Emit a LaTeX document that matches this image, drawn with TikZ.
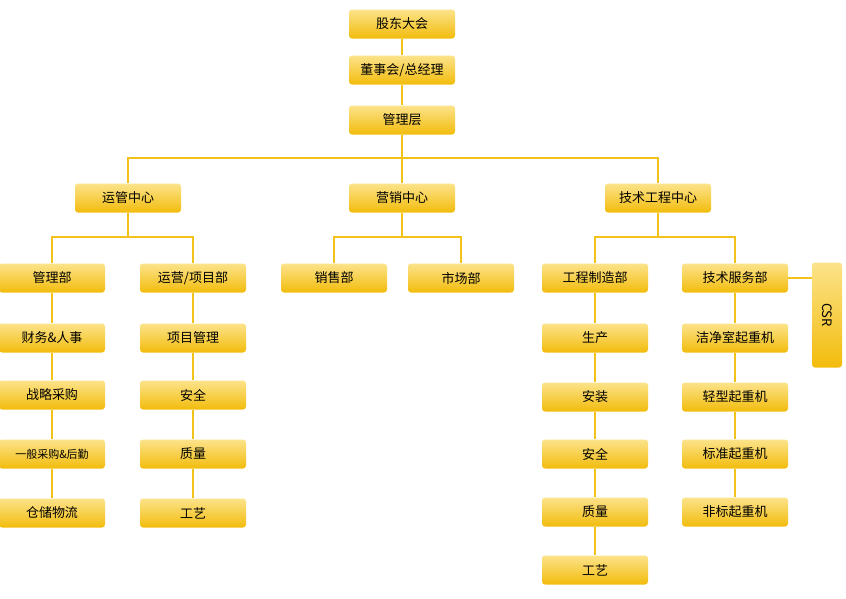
\documentclass[tikz,border=0pt]{standalone}
\usepackage{fontspec}
\setmainfont{Noto Sans CJK SC}
\definecolor{ytop}{HTML}{FCE38A}
\definecolor{ybot}{HTML}{F2BC0C}
\definecolor{lnc}{HTML}{F2C21A}
\begin{document}
\begin{tikzpicture}[x=1pt,y=-1pt,
  bx/.style={rounded corners=3pt,top color=ytop,bottom color=ybot,draw=none,minimum width=106pt,minimum height=29pt,inner sep=0pt,font=\fontsize{13}{15}\selectfont,text=black},
  ln/.style={draw=lnc,line width=1.5pt}]
\useasboundingbox (0,0) rectangle (846,598);
\node[bx] (a) at (402,24) {股东大会};
\node[bx] (b) at (402,70) {董事会/总经理};
\node[bx] (c) at (402,120) {管理层};
\node[bx] (m1) at (128,198) {运管中心};
\node[bx] (m2) at (402,198) {营销中心};
\node[bx] (m3) at (658,198) {技术工程中心};
\node[bx] (d1) at (52,278) {管理部};
\node[bx] (d2) at (193,278) {运营/项目部};
\node[bx] (d3) at (334,278) {销售部};
\node[bx] (d4) at (461,278) {市场部};
\node[bx] (d5) at (595,278) {工程制造部};
\node[bx] (d6) at (735,278) {技术服务部};
\node[bx,minimum width=30pt,minimum height=105pt] (csr) at (827,315) {\rotatebox{-90}{CSR}};
\foreach \t [count=\i] in {财务\&人事,战略采购,{\fontsize{11}{13}\selectfont 一般采购\&后勤},仓储物流}{
  \pgfmathsetmacro\yy{{338,395,454,513}[\i-1]}
  \node[bx] (p\i) at (52,\yy) {\t};}
\foreach \t [count=\i] in {项目管理,安全,质量,工艺}{
  \pgfmathsetmacro\yy{{338,395,454,513}[\i-1]}
  \node[bx] (q\i) at (193,\yy) {\t};}
\foreach \t [count=\i] in {生产,安装,安全,质量,工艺}{
  \pgfmathsetmacro\yy{{338,397,454,512,570}[\i-1]}
  \node[bx] (r\i) at (595,\yy) {\t};}
\foreach \t [count=\i] in {洁净室起重机,轻型起重机,标准起重机,非标起重机}{
  \pgfmathsetmacro\yy{{338,397,454,512}[\i-1]}
  \node[bx] (s\i) at (735,\yy) {\t};}
\coordinate (h) at (402,158);
\draw[ln] (a) -- (b);
\draw[ln] (b) -- (c);
\draw[ln] (c.south) -- (h);
\draw[ln] (m1.north) |- (h) -| (m3.north);
\draw[ln] (h) -- (m2.north);
\coordinate (v1) at (128,237);
\coordinate (v2) at (402,237);
\coordinate (v3) at (658,237);
\draw[ln] (m1.south) -- (v1);
\draw[ln] (d1.north) |- (v1) -| (d2.north);
\draw[ln] (m2.south) -- (v2);
\draw[ln] (d3.north) |- (v2) -| (d4.north);
\draw[ln] (m3.south) -- (v3);
\draw[ln] (d5.north) |- (v3) -| (d6.north);
\draw[ln] (d6.east) -- (csr.west |- d6.east);
\draw[ln] (d1) -- (p1) -- (p2) -- (p3) -- (p4);
\draw[ln] (d2) -- (q1) -- (q2) -- (q3) -- (q4);
\draw[ln] (d5) -- (r1) -- (r2) -- (r3) -- (r4) -- (r5);
\draw[ln] (d6) -- (s1) -- (s2) -- (s3) -- (s4);
\end{tikzpicture}
\end{document}
